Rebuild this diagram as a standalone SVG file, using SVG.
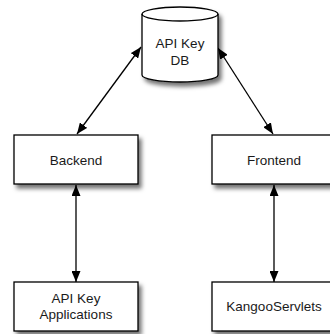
<svg xmlns="http://www.w3.org/2000/svg" width="330" height="334" viewBox="0 0 330 334">
  <style>
    .shape { fill: #ffffff; stroke: #000000; stroke-width: 1.3; }
    .label { font-family: "Liberation Sans", Arial, sans-serif; font-size: 13.5px; fill: #1a1a1a; text-anchor: middle; }
    .link { stroke: #000000; stroke-width: 1.3; fill: none; marker-start: url(#head); marker-end: url(#head); }
  </style>
  <defs>
    <filter id="shadow" x="-20%" y="-20%" width="150%" height="160%">
      <feDropShadow dx="3" dy="4" stdDeviation="2.2" flood-color="#000000" flood-opacity="0.55"/>
    </filter>
    <marker id="head" viewBox="0 0 11 9" refX="11" refY="4.5" markerWidth="11" markerHeight="9" markerUnits="userSpaceOnUse" orient="auto-start-reverse">
      <path d="M0,0 L11,4.5 L0,9 Z" fill="#000000"/>
    </marker>
  </defs>
  <rect width="330" height="334" fill="#ffffff"/>

  <g id="connectors">
    <line class="link" x1="77" y1="134" x2="141" y2="47"/>
    <line class="link" x1="218" y1="48" x2="273" y2="134"/>
    <line class="link" x1="76" y1="185" x2="76" y2="282"/>
    <line class="link" x1="274" y1="185" x2="274" y2="282"/>
  </g>

  <g id="api-key-db">
    <path class="shape" filter="url(#shadow)" d="M142,14 L142,75 A38,7 0 0 0 218,75 L218,14 A38,7 0 0 0 142,14 Z"/>
    <path class="shape" style="fill:none" d="M142,14 A38,7 0 0 0 218,14"/>
    <text class="label" x="180" y="48">API Key</text>
    <text class="label" x="180" y="65">DB</text>
  </g>

  <g id="backend">
    <rect class="shape" filter="url(#shadow)" x="14" y="135" width="124" height="49"/>
    <text class="label" x="76" y="165">Backend</text>
  </g>

  <g id="frontend">
    <rect class="shape" filter="url(#shadow)" x="212" y="135" width="124" height="49"/>
    <text class="label" x="274" y="165">Frontend</text>
  </g>

  <g id="api-key-applications">
    <rect class="shape" filter="url(#shadow)" x="14" y="282" width="124" height="49"/>
    <text class="label" x="76" y="303">API Key</text>
    <text class="label" x="76" y="319">Applications</text>
  </g>

  <g id="kangoo-servlets">
    <rect class="shape" filter="url(#shadow)" x="212" y="282" width="124" height="49"/>
    <text class="label" x="274" y="311">KangooServlets</text>
  </g>
</svg>
